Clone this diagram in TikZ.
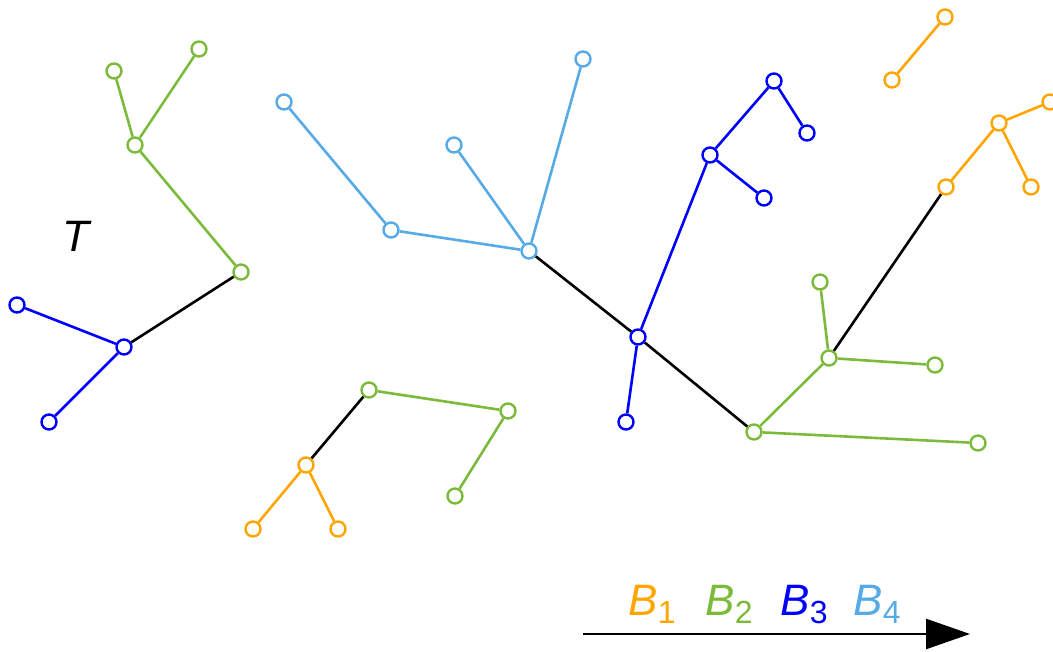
\documentclass[tikz,border=0pt]{standalone}
\usepackage{fontspec}
\setmainfont{Liberation Sans}
\usetikzlibrary{arrows.meta}
\definecolor{cO}{RGB}{255,165,0}
\definecolor{cG}{RGB}{124,186,60}
\definecolor{cB}{RGB}{0,0,255}
\definecolor{cL}{RGB}{86,170,230}
\tikzset{
  vtx/.style={circle,draw,fill=white,line width=2.4pt,minimum size=15pt,inner sep=0pt},
  vO/.style={vtx,draw=cO}, vG/.style={vtx,draw=cG}, vB/.style={vtx,draw=cB}, vL/.style={vtx,draw=cL},
  eO/.style={draw=cO,line width=2.6pt}, eG/.style={draw=cG,line width=2.6pt},
  eB/.style={draw=cB,line width=2.6pt}, eL/.style={draw=cL,line width=2.6pt},
  eK/.style={draw=black,line width=2.6pt},
  lbl/.style={font=\fontsize{44}{44}\selectfont\itshape,inner sep=0pt}
}
\newcommand{\Bsub}[1]{B\raisebox{-0.2em}{\fontsize{32}{32}\selectfont\upshape #1}}
\begin{document}
\begin{tikzpicture}[x=1pt,y=-1pt]
\useasboundingbox (0,0) rectangle (1053,652);
% left tree
\node[vG] (g1) at (114,71) {};
\node[vG] (g2) at (199,49) {};
\node[vG] (g3) at (135,145) {};
\node[vG] (g4) at (241,272) {};
\node[vB] (b1) at (124,347) {};
\node[vB] (b2) at (17,305) {};
\node[vB] (b3) at (49,422) {};
\path[eG] (g1)--(g3) (g2)--(g3) (g3)--(g4);
\path[eB] (b2)--(b1) (b3)--(b1);
\path[eK] (b1)--(g4);
\node[lbl] (T) at (76,236) {T};
% bottom middle tree
\node[vO] (o1) at (306,465) {};
\node[vO] (o2) at (253,529) {};
\node[vO] (o3) at (338,529) {};
\node[vG] (g5) at (369,390) {};
\node[vG] (g6) at (508,411) {};
\node[vG] (g7) at (455,496) {};
\path[eO] (o1)--(o2) (o1)--(o3);
\path[eG] (g5)--(g6) (g6)--(g7);
\path[eK] (o1)--(g5);
% central tree
\node[vL] (c1) at (284,102) {};
\node[vL] (c2) at (391,230) {};
\node[vL] (c3) at (454,145) {};
\node[vL] (c4) at (529,251) {};
\node[vL] (c5) at (583,59) {};
\path[eL] (c1)--(c2) (c2)--(c4) (c3)--(c4) (c5)--(c4);
\node[vB] (B) at (638,337) {};
\node[vB] (b4) at (626,422) {};
\node[vB] (b5) at (710,155) {};
\node[vB] (b6) at (774,81) {};
\node[vB] (b7) at (807,133) {};
\node[vB] (b8) at (764,198) {};
\path[eB] (B)--(b4) (B)--(b5) (b5)--(b6) (b6)--(b7) (b5)--(b8);
\path[eK] (c4)--(B);
\node[vG] (G) at (754,432) {};
\node[vG] (G2) at (829,358) {};
\node[vG] (G3) at (820,282) {};
\node[vG] (G4) at (935,365) {};
\node[vG] (G5) at (978,443) {};
\path[eG] (G)--(G2) (G)--(G5) (G2)--(G3) (G2)--(G4);
\path[eK] (B)--(G);
\node[vO] (O) at (946,187) {};
\node[vO] (O2) at (999,123) {};
\node[vO] (O3) at (1050,102) {};
\node[vO] (O4) at (1031,187) {};
\path[eO] (O)--(O2) (O2)--(O3) (O2)--(O4);
\path[eK] (G2)--(O);
\node[vO] (O5) at (892,80) {};
\node[vO] (O6) at (945,17) {};
\path[eO] (O5)--(O6);
% arrow and labels
\coordinate (a0) at (583,634);
\coordinate (a1) at (970,634);
\draw[line width=2.6pt,-{Triangle[length=44pt,width=30pt]}] (a0)--(a1);
\node[lbl,text=cO,anchor=base] (l1) at (652,615) {\Bsub{1}};
\node[lbl,text=cG,anchor=base] (l2) at (729,615) {\Bsub{2}};
\node[lbl,text=cB,anchor=base] (l3) at (804,615) {\Bsub{3}};
\node[lbl,text=cL,anchor=base] (l4) at (877,615) {\Bsub{4}};
\end{tikzpicture}
\end{document}
